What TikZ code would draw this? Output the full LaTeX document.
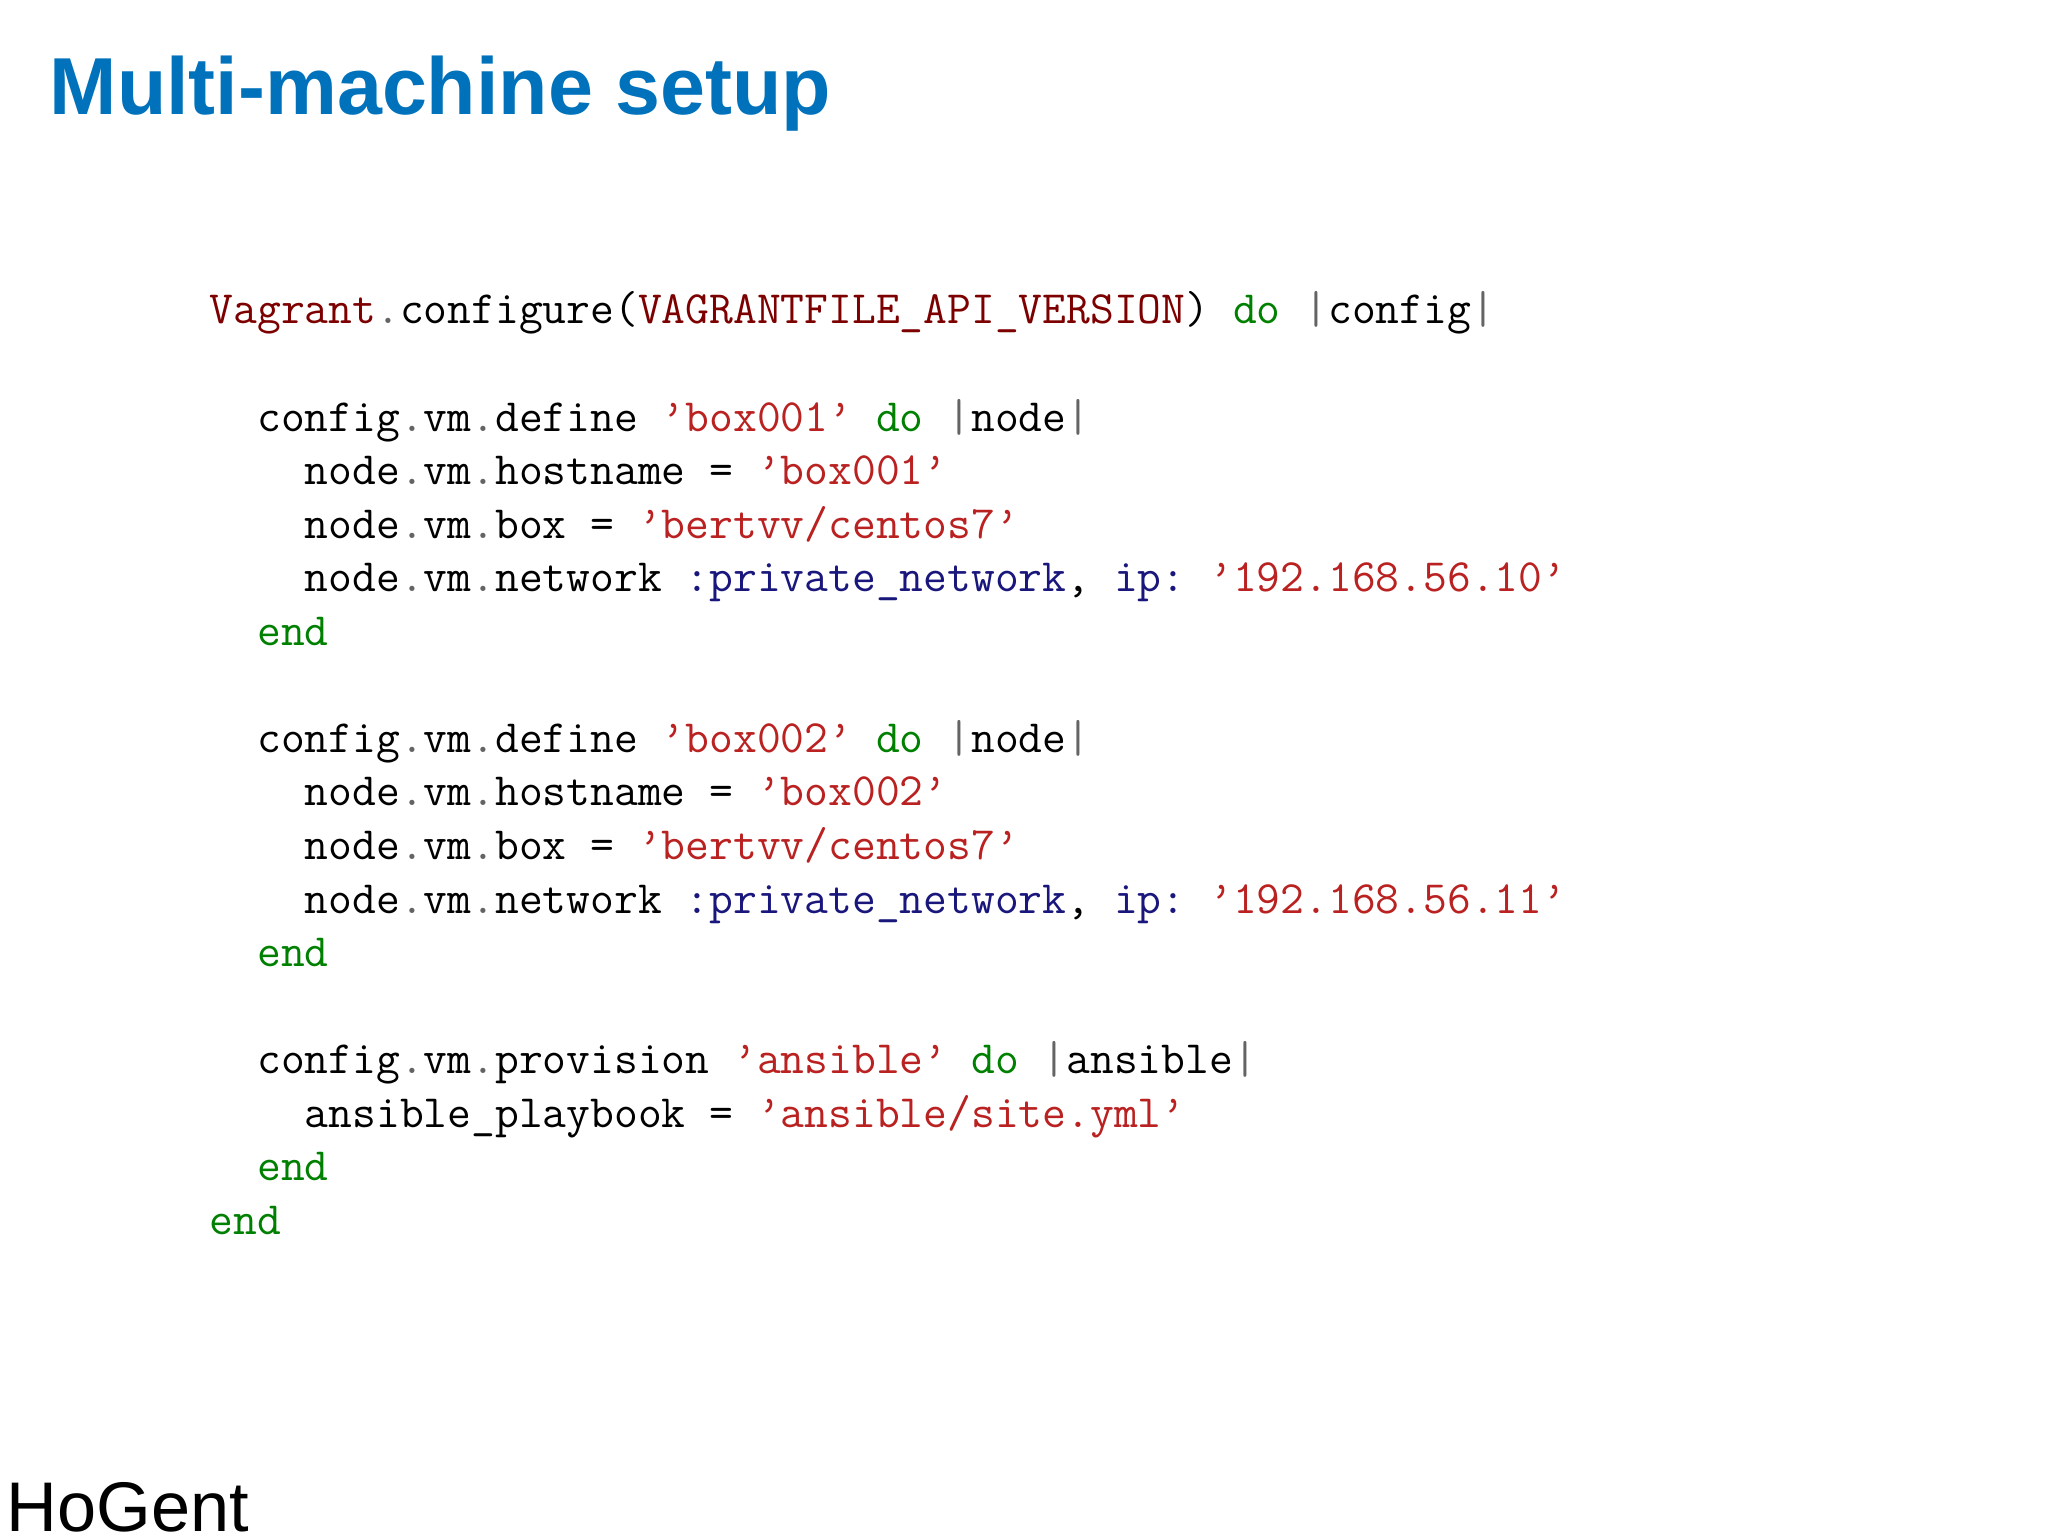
\documentclass[tikz,border=0pt]{standalone}
\usepackage{fontspec}
\newfontfamily\titlefont{Liberation Sans}
\definecolor{titleblue}{RGB}{0,114,187}
\definecolor{kwgreen}{RGB}{0,128,0}
\definecolor{strred}{RGB}{186,33,33}
\definecolor{clsred}{RGB}{125,0,0}
\definecolor{symblue}{RGB}{25,23,124}
\definecolor{dotgray}{RGB}{100,100,100}
\newcommand{\cK}[1]{\textcolor{kwgreen}{#1}}
\newcommand{\cS}[1]{\textcolor{strred}{#1}}
\newcommand{\cC}[1]{\textcolor{clsred}{#1}}
\newcommand{\cY}[1]{\textcolor{symblue}{#1}}
\newcommand{\cD}{\textcolor{dotgray}{.}}
\newcommand{\cP}{\textcolor{dotgray}{|}}
\frenchspacing
\begin{document}
\begin{tikzpicture}[x=1cm,y=-1cm,
  codeline/.style={anchor=base west,inner sep=0pt,font=\ttfamily\fontsize{13.15}{15}\selectfont},
  title/.style={anchor=base west,inner sep=0pt,text=titleblue,font=\titlefont\bfseries\fontsize{23}{28}\selectfont}]
\useasboundingbox (0,0) rectangle (20.48,15.36);
\node[title] (t) at (0.49,1.15) {Multi-machine setup};
\def\L#1{(2.09,{3.24+0.5355*#1})}
\node[codeline] (l0) at \L{0} {\cC{Vagrant}\cD configure(\cC{VAGRANTFILE\_API\_VERSION}) \cK{do} \cP config\cP};
\node[codeline] (l2) at \L{2} {\ \ config\cD vm\cD define \cS{’box001’} \cK{do} \cP node\cP};
\node[codeline] (l3) at \L{3} {\ \ \ \ node\cD vm\cD hostname = \cS{’box001’}};
\node[codeline] (l4) at \L{4} {\ \ \ \ node\cD vm\cD box = \cS{’bertvv/centos7’}};
\node[codeline] (l5) at \L{5} {\ \ \ \ node\cD vm\cD network \cY{:private\_network}, \cY{ip:} \cS{’192.168.56.10’}};
\node[codeline] (l6) at \L{6} {\ \ \cK{end}};
\node[codeline] (l8) at \L{8} {\ \ config\cD vm\cD define \cS{’box002’} \cK{do} \cP node\cP};
\node[codeline] (l9) at \L{9} {\ \ \ \ node\cD vm\cD hostname = \cS{’box002’}};
\node[codeline] (l10) at \L{10} {\ \ \ \ node\cD vm\cD box = \cS{’bertvv/centos7’}};
\node[codeline] (l11) at \L{11} {\ \ \ \ node\cD vm\cD network \cY{:private\_network}, \cY{ip:} \cS{’192.168.56.11’}};
\node[codeline] (l12) at \L{12} {\ \ \cK{end}};
\node[codeline] (l14) at \L{14} {\ \ config\cD vm\cD provision \cS{’ansible’} \cK{do} \cP ansible\cP};
\node[codeline] (l15) at \L{15} {\ \ \ \ ansible\_playbook = \cS{’ansible/site.yml’}};
\node[codeline] (l16) at \L{16} {\ \ \cK{end}};
\node[codeline] (l17) at \L{17} {\cK{end}};
\node[anchor=base west,inner sep=0pt,font=\titlefont\fontsize{20}{24}\selectfont] (hg) at (0.06,15.31) {HoGent};
\end{tikzpicture}
\end{document}
